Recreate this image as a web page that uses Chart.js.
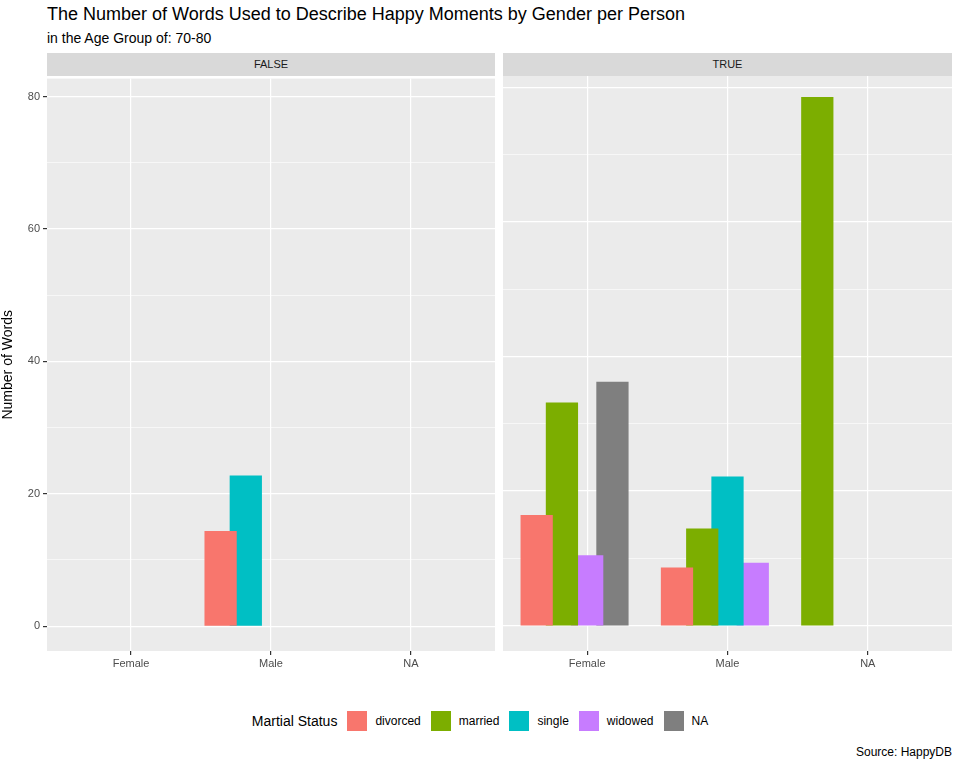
<!DOCTYPE html>
<html>
<head>
<meta charset="utf-8">
<script src="https://cdn.jsdelivr.net/npm/chart.js@4"></script>
<style>
  body { margin: 0; width: 960px; height: 768px; background: #fff; font-family: "Liberation Sans", Arial, sans-serif; position: relative; overflow: hidden; }
  .abs { position: absolute; }
  .strip { background: #D9D9D9; height: 23px; top: 53px; font-size: 11px; color: #1a1a1a; text-align: center; line-height: 23px; }
  .key { display: inline-block; width: 20px; height: 20px; vertical-align: middle; margin: 0 8px 0 10px; }
</style>
</head>
<body>
<div class="abs" style="left:47px;top:4px;font-size:18px;color:#000;">The Number of Words Used to Describe Happy Moments by Gender per Person</div>
<div class="abs" style="left:47px;top:30px;font-size:14px;color:#000;">in the Age Group of: 70-80</div>
<div class="abs" style="left:0;top:69px;width:495px;height:611px;"><canvas id="chartFalse"></canvas></div>
<div class="abs" style="left:503px;top:69px;width:449px;height:611px;"><canvas id="chartTrue"></canvas></div>
<div class="abs strip" style="left:47px;width:448px;">FALSE</div>
<div class="abs strip" style="left:503px;width:449px;">TRUE</div>
<div class="abs" id="legend" style="left:0;width:960px;top:711px;text-align:center;font-size:12px;color:#000;"></div>
<div class="abs" style="right:8px;top:745px;font-size:12px;color:#000;">Source: HappyDB</div>
<script>
/* =========================
   DATOS
========================= */
const genders = ["Female", "Male", "NA"];
const statuses = ["divorced", "married", "single", "widowed", "NA"];
const statusColors = ["#F8766D", "#7CAE00", "#00BFC4", "#C77CFF", "#7F7F7F"];

// FALSE panel, one array per status (Female, Male, NA)
const divorcedFalse = [null, 14.3, null];
const marriedFalse = [null, null, null];
const singleFalse = [null, 22.7, null];
const widowedFalse = [null, null, null];
const naFalse = [null, null, null];

// TRUE panel
const divorcedTrue = [16.4, 8.6, null];
const marriedTrue = [33.1, 14.4, 78.5];
const singleTrue = [null, 22.1, null];
const widowedTrue = [10.4, 9.3, null];
const naTrue = [36.2, null, null];

const yTicks = [0, 20, 40, 60, 80];

/* =========================
   DATASETS (dodge tipo ggplot, preserve single)
========================= */
function buildDatasets(series) {
    const slotWidth = 0.9 / statuses.length;
    const used = genders.map(() => 0);
    return series.map((values, s) => {
        const points = [];
        values.forEach((v, g) => {
            if (v === null) return;
            const slot = used[g]++;
            points.push({ x: g + 1 - 0.45 + slotWidth * (slot + 0.5), y: v });
        });
        return {
            label: statuses[s],
            data: points,
            backgroundColor: statusColors[s],
            borderWidth: 0,
            barThickness: 31.6,
            grouped: false
        };
    });
}

function makeChart(id, series, showY) {
    const ctx = document.getElementById(id).getContext("2d");
    return new Chart(ctx, {
        type: "bar",
        data: { datasets: buildDatasets(series) },
        plugins: [{
            id: "panelBg",
            beforeDraw(chart) {
                const a = chart.chartArea;
                chart.ctx.save();
                chart.ctx.fillStyle = "#EBEBEB";
                chart.ctx.fillRect(a.left, a.top, a.right - a.left, a.bottom - a.top);
                chart.ctx.restore();
            }
        }],
        options: {
            responsive: true,
            maintainAspectRatio: false,
            animation: false,
            layout: { padding: 0 },
            plugins: { legend: { display: false }, tooltip: { enabled: false } },
            scales: {
                x: {
                    type: "linear",
                    min: 0.4,
                    max: 3.6,
                    offset: false,
                    afterBuildTicks: axis => { axis.ticks = genders.map((g, i) => ({ value: i + 1 })); },
                    afterFit: axis => { axis.height = 29; },
                    ticks: {
                        callback: v => genders[v - 1],
                        color: "#4D4D4D",
                        font: { size: 11, family: "Liberation Sans" },
                        padding: 2,
                        maxRotation: 0
                    },
                    grid: { offset: false, color: "#FFFFFF", lineWidth: 1.2, tickColor: "#333333", tickLength: 4 },
                    border: { display: false }
                },
                y: {
                    min: -3.76,
                    max: 82.7,
                    afterBuildTicks: axis => {
                        axis.ticks = [0, 10, 20, 30, 40, 50, 60, 70, 80].map(v => ({ value: v }));
                    },
                    afterFit: axis => { axis.width = showY ? 47 : 0; },
                    ticks: {
                        display: showY,
                        callback: v => yTicks.includes(v) ? v : "",
                        color: "#4D4D4D",
                        font: { size: 11, family: "Liberation Sans" },
                        padding: 3
                    },
                    title: {
                        display: showY,
                        text: "Number of Words",
                        color: "#000",
                        font: { size: 14, family: "Liberation Sans" },
                        padding: 0
                    },
                    grid: {
                        color: "#FFFFFF",
                        lineWidth: c => yTicks.includes(c.tick.value) ? 1.2 : 0.6,
                        tickColor: c => showY && yTicks.includes(c.tick.value) ? "#333333" : "rgba(0,0,0,0)",
                        tickLength: 4
                    },
                    border: { display: false }
                }
            }
        }
    });
}

makeChart("chartFalse", [divorcedFalse, marriedFalse, singleFalse, widowedFalse, naFalse], true);
makeChart("chartTrue", [divorcedTrue, marriedTrue, singleTrue, widowedTrue, naTrue], false);

/* =========================
   LEYENDA
========================= */
const legend = document.getElementById("legend");
let html = '<span style="font-size:14px;margin-right:0;vertical-align:middle;">Martial Status</span>';
statuses.forEach((s, i) => {
    html += '<span class="key" style="background:' + statusColors[i] + '"></span>' +
        '<span style="vertical-align:middle;">' + s + '</span>';
});
legend.innerHTML = html;
</script>
</body>
</html>
